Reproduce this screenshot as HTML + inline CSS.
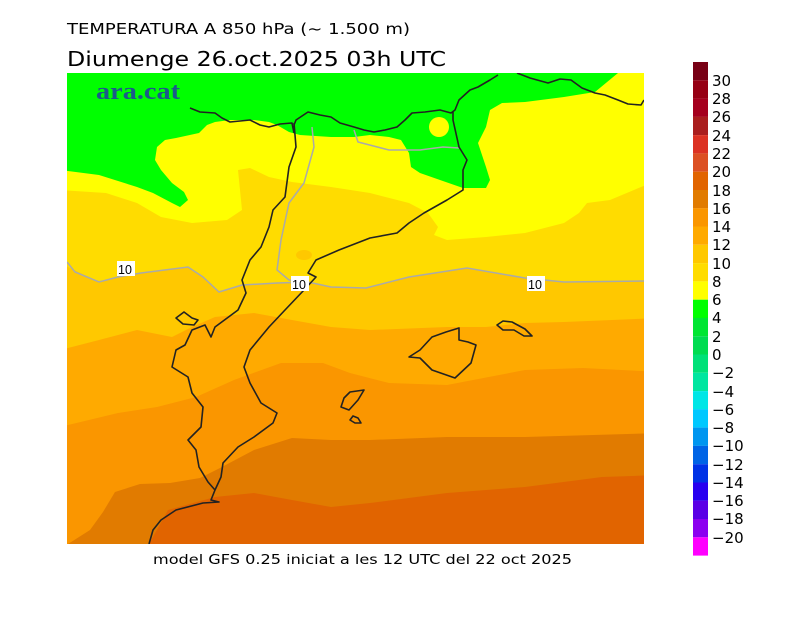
<!DOCTYPE html>
<html><head><meta charset="utf-8"><style>
body{margin:0;background:#fff;width:800px;height:617px;overflow:hidden}
svg{position:absolute;left:0;top:0}
text{font-family:"DejaVu Sans","Liberation Sans",sans-serif;fill:#000}
</style></head><body>
<svg width="800" height="617" viewBox="0 0 800 617">
<defs><clipPath id="m"><rect x="67" y="73" width="577" height="471"/></clipPath></defs>
<text x="67" y="34" font-size="15.5" textLength="343" lengthAdjust="spacingAndGlyphs">TEMPERATURA A 850 hPa (~ 1.500 m)</text>
<text x="67" y="66" font-size="20" textLength="379" lengthAdjust="spacingAndGlyphs">Diumenge  26.oct.2025 03h UTC</text>
<g clip-path="url(#m)">
<rect x="67" y="73" width="577" height="471" fill="#00ff00"/>
<polygon fill="#ffff00" points="60,170 99,175 137,187 153,193 172,203 180,207 188,200 184,192 172,183 161,170 155,160 157,147 165,140 176,138 199,133 207,125 215,122 230,120 254,120 269,122 277,125 289,132 300,135 331,137 354,137 370,135 389,137 401,140 409,153 411,167 420,173 440,180 463,188 486,188 490,180 486,167 478,143 486,127 490,110 502,103 525,102 564,97 595,92 618,73 660,73 660,560 60,560"/>
<ellipse cx="439" cy="127" rx="10" ry="10" fill="#ffff00"/>
<polygon fill="#ffdc00" points="60,190 106,193 137,203 161,217 192,223 227,220 242,210 238,170 250,168 269,177 292,182 331,187 370,193 409,203 428,213 438,227 434,235 447,240 486,237 525,233 564,223 579,213 587,203 610,200 641,187 660,180 660,560 60,560"/>
<polygon fill="#ffc800" points="60,263 68,267 99,282 118,277 141,273 188,267 203,277 219,292 242,285 277,283 308,282 331,287 366,288 409,277 467,268 525,278 564,282 660,281 660,560 60,560"/>
<ellipse cx="304" cy="255" rx="8" ry="5" fill="#ffc800"/>
<polygon fill="#ffaa00" points="60,350 99,340 137,330 172,337 192,327 215,317 254,313 292,320 331,327 370,330 447,327 486,327 525,323 564,322 660,318 660,560 60,560"/>
<polygon fill="#fa9600" points="60,427 118,413 157,407 196,397 234,380 281,363 323,363 350,373 389,383 447,385 525,370 583,368 660,372 660,560 60,560"/>
<polygon fill="#e17b00" points="68,544 90,530 103,512 115,492 140,484 170,483 200,478 220,468 254,450 292,438 331,440 370,440 447,437 525,437 660,433 660,560 68,560"/>
<polygon fill="#e16400" points="149,544 168,510 215,497 254,493 292,500 331,507 370,503 447,493 525,487 602,477 660,475 660,560 149,560"/>
<g fill="none" stroke="#aaaaaa" stroke-width="1.5">
<polyline points="67,262 75,272 99,282 118,277 141,273 188,267 203,277 219,292 242,285 277,283 308,282 331,287 366,288 409,277 467,268 525,278 564,282 644,281"/>
<polyline points="312,127 314,147 304,183 289,203 281,240 277,270 289,280 308,282"/>
<polyline points="354,130 358,142 389,150 420,150 443,147 459,148"/>
</g>
<g fill="none" stroke="#222" stroke-width="1.6" stroke-linejoin="round">
<polyline points="190,108 200,112 215,113 222,118 230,122 240,121 250,120 260,125 269,127 280,124 292,123 294,133"/>
<polyline points="294,125 296,120 308,112 320,115 331,117 340,123 354,127 364,130 374,132 385,130 397,127 405,120 412,113 425,112 440,110 451,113 455,110 459,100 470,90 478,87 490,80 498,75"/>
<polyline points="517,73 530,78 548,83 560,79 571,80 582,88 595,93 605,95 618,100 628,104 641,105 644,100"/>
<polyline points="453,112 453,120 459,147 467,160 463,170 463,190 447,200 424,213 409,223 397,233 370,238 339,250 316,260 308,273 316,277 304,290 285,310 269,327 250,350 244,367 250,383 261,403 277,413 273,423 254,437 238,447 223,463 221,477 215,490 211,500 219,502 203,503 176,510 161,520 153,530 149,544"/>
<polyline points="294,123 296,147 289,167 285,197 273,210 269,227 261,247 250,260 242,280 246,293 238,310 215,327 211,337 205,325 192,330 185,345 176,350 172,367 188,377 192,393 203,407 201,427 188,440 196,450 199,467 208,482 215,490"/>
<polygon points="176,318 184,312 192,318 198,320 194,325 183,324"/>
<polygon points="409,357 420,350 432,337 446,332 459,328 459,340 468,342 476,345 471,363 455,378 432,370 420,358"/>
<polygon points="497,325 503,321 512,322 525,329 532,336 524,336 514,330 503,330"/>
<polygon points="341,407 344,398 350,392 364,390 358,400 349,410"/>
<polygon points="350,420 353,416 358,418 361,423 355,423"/>
</g>
<g font-size="12.5">
<rect x="117" y="261" width="18" height="15" fill="#fff"/><text x="118" y="274" style="font-family:'Liberation Sans',sans-serif">10</text>
<rect x="291" y="276" width="18" height="15" fill="#fff"/><text x="292" y="289" style="font-family:'Liberation Sans',sans-serif">10</text>
<rect x="527" y="276" width="18" height="15" fill="#fff"/><text x="528" y="289" style="font-family:'Liberation Sans',sans-serif">10</text>
</g>
<text x="96" y="99" font-weight="bold" font-size="24" textLength="84" lengthAdjust="spacingAndGlyphs" style="fill:#1b5a8a;font-family:'Liberation Serif',serif">ara.cat</text>
</g>
<text x="153" y="564" font-size="13.5" textLength="419" lengthAdjust="spacingAndGlyphs">model GFS 0.25 iniciat a les 12 UTC del 22 oct 2025</text>
<g>
<rect x="693" y="62.0" width="15" height="18.3" fill="#780015"/>
<rect x="693" y="80.3" width="15" height="18.3" fill="#960014"/>
<rect x="693" y="98.6" width="15" height="18.3" fill="#a5001e"/>
<rect x="693" y="116.8" width="15" height="18.3" fill="#aa1e1e"/>
<rect x="693" y="135.1" width="15" height="18.3" fill="#dc3223"/>
<rect x="693" y="153.4" width="15" height="18.3" fill="#dc5023"/>
<rect x="693" y="171.7" width="15" height="18.3" fill="#e16400"/>
<rect x="693" y="190.0" width="15" height="18.3" fill="#e17b00"/>
<rect x="693" y="208.2" width="15" height="18.3" fill="#fa9600"/>
<rect x="693" y="226.5" width="15" height="18.3" fill="#ffaa00"/>
<rect x="693" y="244.8" width="15" height="18.3" fill="#ffc800"/>
<rect x="693" y="263.1" width="15" height="18.3" fill="#ffdc00"/>
<rect x="693" y="281.4" width="15" height="18.3" fill="#ffff00"/>
<rect x="693" y="299.7" width="15" height="18.3" fill="#00ff00"/>
<rect x="693" y="317.9" width="15" height="18.3" fill="#00e632"/>
<rect x="693" y="336.2" width="15" height="18.3" fill="#00dc50"/>
<rect x="693" y="354.5" width="15" height="18.3" fill="#00e178"/>
<rect x="693" y="372.8" width="15" height="18.3" fill="#00e6a0"/>
<rect x="693" y="391.1" width="15" height="18.3" fill="#00e6e6"/>
<rect x="693" y="409.3" width="15" height="18.3" fill="#00c8ff"/>
<rect x="693" y="427.6" width="15" height="18.3" fill="#0096f0"/>
<rect x="693" y="445.9" width="15" height="18.3" fill="#0064e6"/>
<rect x="693" y="464.2" width="15" height="18.3" fill="#0032e6"/>
<rect x="693" y="482.5" width="15" height="18.3" fill="#2800f0"/>
<rect x="693" y="500.7" width="15" height="18.3" fill="#5a00e6"/>
<rect x="693" y="519.0" width="15" height="18.3" fill="#8c00f0"/>
<rect x="693" y="537.3" width="15" height="18.3" fill="#ff00ff"/>
</g>
<g font-size="15">
<text x="712" y="86">30</text><text x="712" y="104">28</text><text x="712" y="122">26</text><text x="712" y="141">24</text><text x="712" y="159">22</text><text x="712" y="177">20</text><text x="712" y="196">18</text><text x="712" y="214">16</text><text x="712" y="232">14</text><text x="712" y="250">12</text><text x="712" y="269">10</text><text x="712" y="287">8</text><text x="712" y="305">6</text><text x="712" y="323">4</text><text x="712" y="342">2</text><text x="712" y="360">0</text><text x="712" y="378">−2</text><text x="712" y="397">−4</text><text x="712" y="415">−6</text><text x="712" y="433">−8</text><text x="712" y="451">−10</text><text x="712" y="470">−12</text><text x="712" y="488">−14</text><text x="712" y="506">−16</text><text x="712" y="524">−18</text><text x="712" y="543">−20</text>
</g>
</svg>
</body></html>
